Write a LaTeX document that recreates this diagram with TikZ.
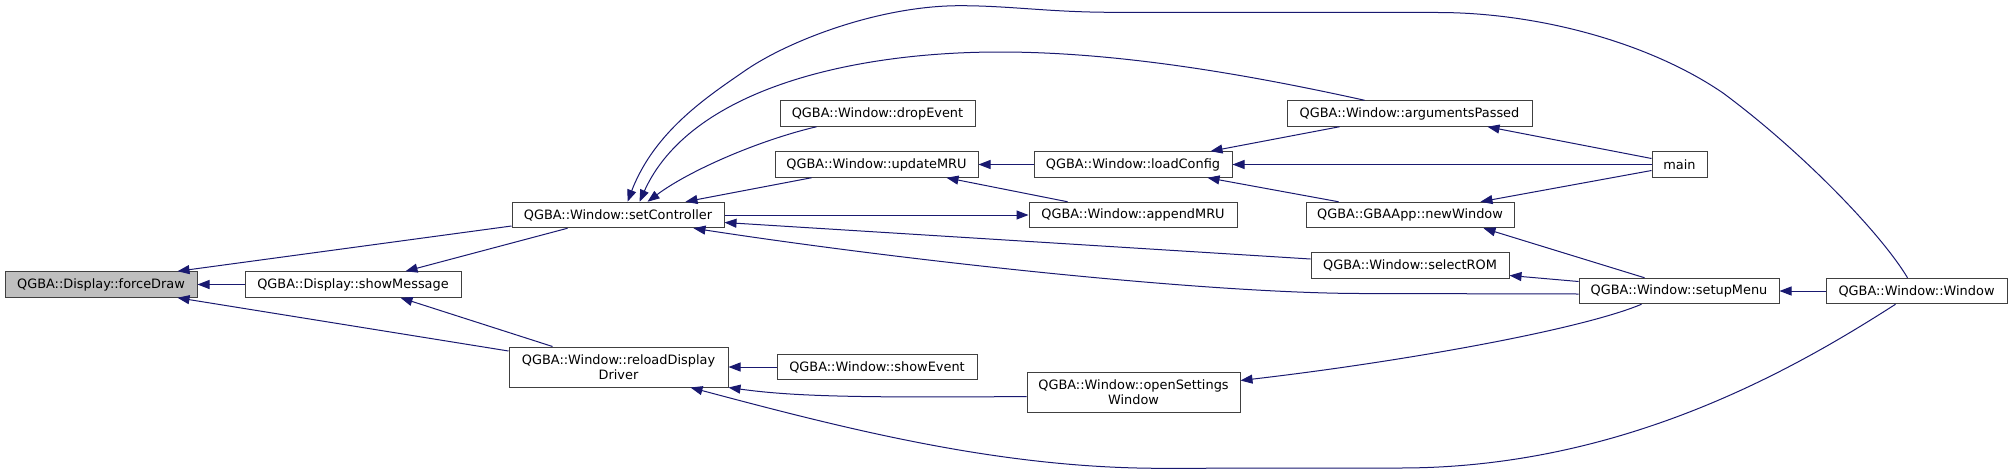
\documentclass[tikz,border=0pt]{standalone}
\usepackage{fontspec}
\setmainfont{DejaVu Sans}
\usetikzlibrary{arrows.meta,calc}
\definecolor{edgec}{HTML}{191970}
\definecolor{boxc}{HTML}{404040}
\definecolor{hlfill}{HTML}{BFBFBF}
\begin{document}
\begin{tikzpicture}[x=1pt,y=-1pt,
  box/.style={draw=boxc, line width=1pt, fill=white, inner sep=0pt, minimum height=25.5pt,
    font=\fontsize{12.9}{14.5}\selectfont, align=center},
  tall/.style={minimum height=40pt},
  edge/.style={draw=edgec, line width=1pt, -{Triangle[length=12pt,width=9pt]}}]
\useasboundingbox (0,0) rectangle (2012,474);
\fill[white] (0,0) rectangle (2012,474);

\node[box, fill=hlfill, minimum width=192pt] (fd) at (101,284.5) {QGBA::Display::forceDraw};
\node[box, minimum width=216pt] (sm) at (353,284.5) {QGBA::Display::showMessage};
\node[box, minimum width=212pt] (sc) at (618,215) {QGBA::Window::setController};
\node[box, tall, minimum width=219pt] (rd) at (618.5,367) {QGBA::Window::reloadDisplay\\Driver};
\node[box, minimum width=195pt] (de) at (877.5,113.5) {QGBA::Window::dropEvent};
\node[box, minimum width=203pt] (um) at (876.5,164.5) {QGBA::Window::updateMRU};
\node[box, minimum width=200pt] (se) at (877,367) {QGBA::Window::showEvent};
\node[box, minimum width=198pt] (lc) at (1133,164.5) {QGBA::Window::loadConfig};
\node[box, minimum width=208pt] (am) at (1133,215) {QGBA::Window::appendMRU};
\node[box, tall, minimum width=213pt] (os) at (1133.5,392) {QGBA::Window::openSettings\\Window};
\node[box, minimum width=245pt] (ap) at (1409.5,113.5) {QGBA::Window::argumentsPassed};
\node[box, minimum width=208pt] (nw) at (1410,215) {QGBA::GBAApp::newWindow};
\node[box, minimum width=198pt] (sr) at (1410,265.5) {QGBA::Window::selectROM};
\node[box, minimum width=55pt] (mn) at (1679.5,164.5) {main};
\node[box, minimum width=200pt] (su) at (1679,291) {QGBA::Window::setupMenu};
\node[box, minimum width=181pt] (ww) at (1916.5,291) {QGBA::Window::Window};

% into forceDraw
\draw[edge] (sm.west) -- (fd.east);
\draw[edge] ($(sc.west)+(0,11)$) -- ($(fd.north east)+(-20,0)$);
\draw[edge] ($(rd.west)+(0,-16)$) -- ($(fd.south east)+(-20,0)$);
% into showMessage
\draw[edge] ($(sc.south west)+(56,0)$) -- ($(sm.north east)+(-56,0)$);
\draw[edge] ($(rd.north west)+(44,0)$) -- ($(sm.south east)+(-61,0)$);
% into setController
\draw[edge] ($(ww.north west)+(82,0)$) .. controls (1880,232) and (1800,150) .. (1723,93)
  .. controls (1650,43) and (1540,13) .. (1440,12.5) -- (1113,12.3)
  .. controls (1050,12.3) and (1010,5.7) .. (960,5.7)
  .. controls (880,5.7) and (790,40) .. (746,70)
  .. controls (710,95) and (655,130) .. ($(sc.north west)+(116,0)$);
\draw[edge] ($(ap.north west)+(78,0)$) .. controls (1250,75) and (1120,52) .. (1000,52)
  .. controls (850,52) and (690,90) .. ($(sc.north west)+(128,0)$);
\draw[edge] ($(de.south west)+(37,0)$) .. controls (760,140) and (690,170) .. ($(sc.north west)+(136,0)$);
\draw[edge] ($(um.south west)+(37,0)$) -- ($(sc.north west)+(174,0)$);
\draw[edge] ($(sr.west)+(0,-6.5)$) -- ($(sc.east)+(0,7.5)$);
\draw[edge] ($(su.west)+(0,3)$) -- (1360,293.5) .. controls (1200,293) and (900,260) .. ($(sc.south east)+(-31,0)$);
% appendMRU / updateMRU / loadConfig
\draw[edge] (sc.east) -- (am.west);
\draw[edge] ($(am.north west)+(39,0)$) -- ($(um.south west)+(172,0)$);
\draw[edge] (lc.west) -- (um.east);
\draw[edge] ($(ap.south west)+(53,0)$) -- ($(lc.north east)+(-22,0)$);
\draw[edge] (mn.west) -- (lc.east);
\draw[edge] ($(nw.north west)+(33,0)$) -- ($(lc.south east)+(-25,0)$);
% main
\draw[edge] ($(mn.west)+(0,-6)$) -- ($(ap.south east)+(-45,0)$);
\draw[edge] ($(mn.west)+(0,6)$) -- ($(nw.north east)+(-34,0)$);
% setupMenu
\draw[edge] ($(su.north west)+(66,0)$) -- ($(nw.south east)+(-31,0)$);
\draw[edge] ($(su.west)+(0,-9.5)$) -- ($(sr.east)+(0,10)$);
\draw[edge] (ww.west) -- (su.east);
\draw[edge] ($(su.south west)+(63,0)$) .. controls (1580,330) and (1400,362) .. ($(os.east)+(0,-11.5)$);
% into reloadDisplayDriver
\draw[edge] ($(ww.south west)+(70,0)$) .. controls (1790,372) and (1620,468) .. (1400,468) -- (1160,468.3)
  .. controls (1000,468) and (850,430) .. ($(rd.south east)+(-38,0)$);
\draw[edge] ($(os.west)+(0,4.5)$) .. controls (850,398) and (790,396) .. (rd.south east);
\draw[edge] (se.west) -- (rd.east);
\end{tikzpicture}
\end{document}
